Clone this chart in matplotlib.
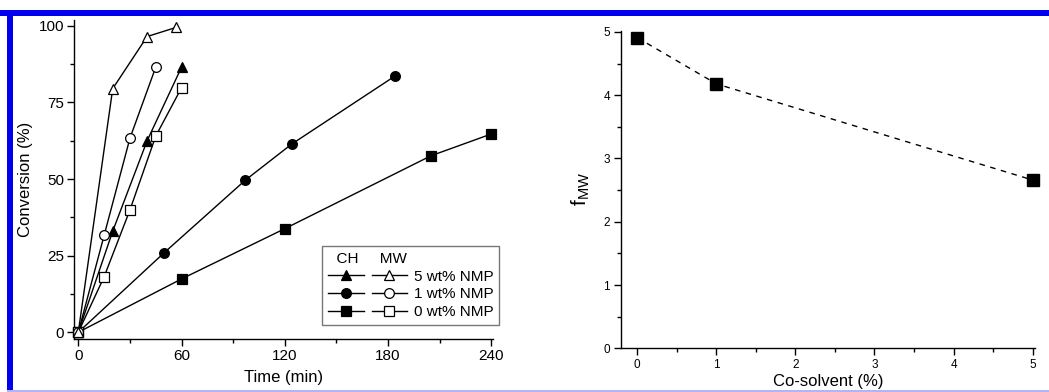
import matplotlib
matplotlib.use("Agg")
import matplotlib.pyplot as plt
from matplotlib.lines import Line2D
from matplotlib.legend_handler import HandlerTuple
from matplotlib.patches import Rectangle
from matplotlib.ticker import MultipleLocator

plt.rcParams['font.family'] = ['Liberation Sans', 'DejaVu Sans']

# ---- Left panel data: conversion (%) vs time (min) ----
ch5_t = [0, 20, 40, 60]
ch5_y = [0, 33, 62.5, 86.5]
mw5_t = [0, 20, 40, 57]
mw5_y = [0, 79.5, 96.5, 99.5]

ch1_t = [0, 50, 97, 124, 184]
ch1_y = [0, 26, 49.6, 61.4, 83.6]
mw1_t = [0, 15, 30, 45]
mw1_y = [0, 31.6, 63.3, 86.5]

ch0_t = [0, 60, 120, 205, 240]
ch0_y = [0, 17.4, 33.8, 57.6, 64.7]
mw0_t = [0, 15, 30, 45, 60]
mw0_y = [0, 18.1, 39.9, 64.0, 79.8]

series_labels = ["5 wt% NMP", "1 wt% NMP", "0 wt% NMP"]

# ---- Right panel data: f_MW vs co-solvent (%) ----
cosolvent = [0, 1, 5]
f_mw = [4.91, 4.18, 2.66]

fig = plt.figure(figsize=(10.49, 3.92), dpi=100)

# Decorative frame
fig.add_artist(Rectangle((0, 1 - 16/392), 1, 6/392, transform=fig.transFigure,
                         facecolor='#0000ee', edgecolor='none'))
fig.add_artist(Rectangle((7/1049, 0), 6/1049, 1 - 11/392, transform=fig.transFigure,
                         facecolor='#0000ee', edgecolor='none'))
fig.add_artist(Rectangle((7/1049, 0), 1, 2/392, transform=fig.transFigure,
                         facecolor='#b4b4f5', edgecolor='none'))

ax1 = fig.add_axes([74/1049, 1 - 339/392, (493 - 74)/1049, (339 - 20)/392])
ax2 = fig.add_axes([621/1049, 1 - 348.3/392, (1035 - 621)/1049, (348.3 - 30.7)/392])

lw = 1.0
ms = 7
kw = dict(color='black', lw=lw, markersize=ms, markeredgewidth=0.9, clip_on=False)
ax1.plot(ch0_t, ch0_y, marker='s', mfc='black', mec='black', zorder=3, **kw)
ax1.plot(ch1_t, ch1_y, marker='o', mfc='black', mec='black', zorder=3, **kw)
ax1.plot(ch5_t, ch5_y, marker='^', mfc='black', mec='black', zorder=3, **kw)
ax1.plot(mw0_t, mw0_y, marker='s', mfc='white', mec='black', zorder=4, **kw)
ax1.plot(mw1_t, mw1_y, marker='o', mfc='white', mec='black', zorder=4, **kw)
ax1.plot(mw5_t, mw5_y, marker='^', mfc='white', mec='black', zorder=4, **kw)

ax1.set_xlim(-2.5, 241)
ax1.set_ylim(-2.2, 101.9)
ax1.xaxis.set_major_locator(MultipleLocator(60))
ax1.xaxis.set_minor_locator(MultipleLocator(30))
ax1.yaxis.set_major_locator(MultipleLocator(25))
ax1.yaxis.set_minor_locator(MultipleLocator(12.5))
for s in ['top', 'right']:
    ax1.spines[s].set_visible(False)
for s in ['left', 'bottom']:
    ax1.spines[s].set_linewidth(1.0)
ax1.tick_params(which='major', direction='out', length=5, width=1.0, labelsize=11, pad=2)
ax1.tick_params(which='minor', direction='out', length=3, width=1.0)
ax1.set_xlabel("Time (min)", fontsize=12, labelpad=5)
ax1.set_ylabel("Conversion (%)", fontsize=12, labelpad=4)

# Legend
def mk(marker, filled):
    return Line2D([], [], color='black', lw=lw, marker=marker, markersize=7,
                  mfc='black' if filled else 'white', mec='black', markeredgewidth=0.9)

handles = [(mk('^', True), mk('^', False)),
           (mk('o', True), mk('o', False)),
           (mk('s', True), mk('s', False))]
leg = ax1.legend(handles, series_labels, handler_map={tuple: HandlerTuple(ndivide=None, pad=0.5)},
                 loc='lower right', bbox_to_anchor=(1.015, 0.044), frameon=True, fancybox=False,
                 edgecolor='#555555', fontsize=11, handlelength=5.2, handletextpad=0.4,
                 labelspacing=0.24, borderpad=0.4, borderaxespad=0,
                 title="  CH     MW", title_fontsize=11, alignment='left')
leg.get_frame().set_linewidth(1.0)

# Right panel
ax2.plot(cosolvent, f_mw, color='black', lw=1.0, ls=(0, (4, 4)), marker='s',
         mfc='black', mec='black', markersize=8.5, clip_on=False, zorder=3)
ax2.set_xlim(-0.206, 5.03)
ax2.set_ylim(0, 5.02)
ax2.xaxis.set_major_locator(MultipleLocator(1))
ax2.xaxis.set_minor_locator(MultipleLocator(0.5))
ax2.yaxis.set_major_locator(MultipleLocator(1))
ax2.yaxis.set_minor_locator(MultipleLocator(0.5))
for s in ['top', 'right']:
    ax2.spines[s].set_visible(False)
for s in ['left', 'bottom']:
    ax2.spines[s].set_linewidth(1.0)
ax2.tick_params(which='major', direction='out', length=5, width=1.0, labelsize=8.5, pad=3)
ax2.tick_params(which='minor', direction='out', length=3, width=1.0)
ax2.set_xlabel("Co-solvent (%)", fontsize=12, labelpad=2)
ax2.set_ylabel(r"f$_{\mathregular{MW}}$", fontsize=15, labelpad=8)

fig.savefig("out.png", dpi=100)
